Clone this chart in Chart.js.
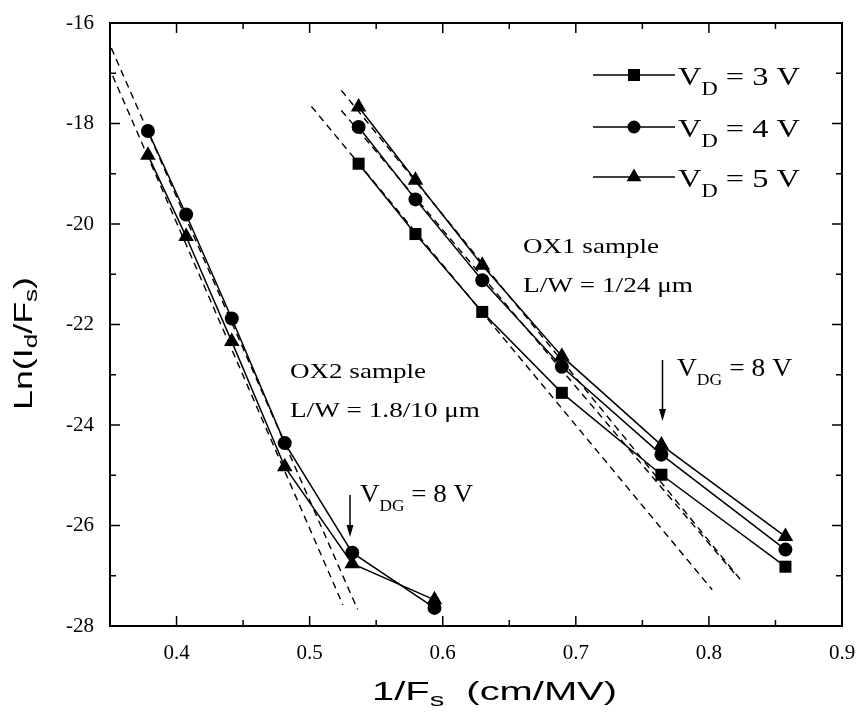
<!DOCTYPE html>
<html>
<head>
<meta charset="utf-8">
<script src="https://cdn.jsdelivr.net/npm/chart.js@4/dist/chart.umd.min.js"></script>
<style>
html,body{margin:0;padding:0;background:#fff;}
#wrap{width:857px;height:715px;position:relative;}
</style>
</head>
<body>
<div id="wrap"><canvas id="c" width="857" height="715"></canvas></div>
<script>
// ---- data ----
const xOX2 = [0.3785, 0.4072, 0.4415, 0.4813, 0.532, 0.5938];
const ox2_VD4 = [-18.15, -19.81, -21.88, -24.36, -26.54, -27.64];
const ox2_VD5 = [-18.63, -20.25, -22.34, -24.83, -26.76, -27.48];

const xOX1 = [0.5368, 0.5795, 0.6297, 0.6895, 0.7643, 0.8575];
const ox1_VD3 = [-18.80, -20.20, -21.75, -23.36, -24.99, -26.82];
const ox1_VD4 = [-18.07, -19.51, -21.12, -22.84, -24.59, -26.48];
const ox1_VD5 = [-17.67, -19.13, -20.82, -22.63, -24.40, -26.22];

// linear fits (dashed), end points
const fitOX2_VD4_x = [0.351, 0.536],  fitOX2_VD4_y = [-16.50, -27.67];
const fitOX2_VD5_x = [0.352, 0.525],  fitOX2_VD5_y = [-17.05, -27.58];
const fitOX1_VD3_x = [0.5013, 0.8025], fitOX1_VD3_y = [-17.66, -27.28];
const fitOX1_VD4_x = [0.5238, 0.8200], fitOX1_VD4_y = [-17.74, -26.98];
const fitOX1_VD5_x = [0.5238, 0.8238], fitOX1_VD5_y = [-17.34, -27.08];

const legendLabels = ['3 V', '4 V', '5 V'];
const legendStyles = ['rect', 'circle', 'triangle'];

const xTickMajor = [0.4, 0.5, 0.6, 0.7, 0.8, 0.9];
const yTickValues = [-28, -26, -24, -22, -20, -18, -16];

// ---- helpers ----
const pts = (xs, ys) => xs.map((x, i) => ({x: x, y: ys[i]}));
const R = {rect: 8.5, circle: 7, triangle: 9};

function solid(data, style) {
  return {data, showLine: true, borderColor: '#000', borderWidth: 1.5,
    pointStyle: style, pointRadius: R[style], pointBackgroundColor: '#000',
    pointBorderColor: '#000', pointBorderWidth: 0, order: 1};
}
function dashed(data) {
  return {data, showLine: true, borderColor: '#000', borderWidth: 1.4,
    borderDash: [7, 5], pointRadius: 0, order: 2};
}

function drawMarker(ctx, style, x, y, r) {
  ctx.beginPath();
  if (style === 'rect') {
    const s = r * Math.SQRT1_2;
    ctx.rect(x - s, y - s, 2 * s, 2 * s);
  } else if (style === 'circle') {
    ctx.arc(x, y, r, 0, Math.PI * 2);
  } else {
    ctx.moveTo(x, y - r);
    ctx.lineTo(x + r * Math.sin(2 * Math.PI / 3), y - r * Math.cos(2 * Math.PI / 3));
    ctx.lineTo(x + r * Math.sin(4 * Math.PI / 3), y - r * Math.cos(4 * Math.PI / 3));
    ctx.closePath();
  }
  ctx.fill();
}

function rich(ctx, parts, x, y, targetW, rotate) {
  ctx.save();
  ctx.translate(x, y);
  if (rotate) ctx.rotate(-Math.PI / 2);
  ctx.textAlign = 'left';
  ctx.textBaseline = 'alphabetic';
  ctx.fillStyle = '#000';
  let w = 0;
  parts.forEach(p => { ctx.font = p.f; p.w = ctx.measureText(p.t).width; w += p.w; });
  const s = targetW ? targetW / w : 1;
  ctx.scale(s, 1);
  let cx = 0;
  parts.forEach(p => { ctx.font = p.f; ctx.fillText(p.t, cx, p.dy || 0); cx += p.w; });
  ctx.restore();
}

function arrow(ctx, x, y0, y1) {
  ctx.save();
  ctx.strokeStyle = '#000'; ctx.fillStyle = '#000'; ctx.lineWidth = 1.5;
  ctx.beginPath(); ctx.moveTo(x, y0); ctx.lineTo(x, y1 - 8); ctx.stroke();
  ctx.beginPath(); ctx.moveTo(x, y1); ctx.lineTo(x - 3.5, y1 - 12); ctx.lineTo(x + 3.5, y1 - 12); ctx.closePath(); ctx.fill();
  ctx.restore();
}

const SERIF = '"Liberation Serif", "Times New Roman", serif';
const SANS = '"Liberation Sans", Arial, sans-serif';

const overlay = {
  id: 'overlay',
  afterDraw(chart) {
    const ctx = chart.ctx;
    const a = chart.chartArea;
    const xs = chart.scales.x, ys = chart.scales.y;
    ctx.save();
    // frame
    ctx.strokeStyle = '#000';
    ctx.lineWidth = 2;
    ctx.strokeRect(a.left, a.top, a.right - a.left, a.bottom - a.top);
    // ticks (inward, major + minor, all four sides)
    ctx.lineWidth = 1.5;
    ctx.beginPath();
    for (let k = 8; k < 18; k++) {
      const v = k * 0.05;
      const px = xs.getPixelForValue(v);
      const L = (k % 2 === 0) ? 10 : 6;
      ctx.moveTo(px, a.bottom); ctx.lineTo(px, a.bottom - L);
      ctx.moveTo(px, a.top); ctx.lineTo(px, a.top + L);
    }
    for (let v = -27; v <= -17; v += 1) {
      const py = ys.getPixelForValue(v);
      const L = (v % 2 === 0) ? 10 : 6;
      ctx.moveTo(a.left, py); ctx.lineTo(a.left + L, py);
      ctx.moveTo(a.right, py); ctx.lineTo(a.right - L, py);
    }
    ctx.stroke();

    // legend
    ctx.fillStyle = '#000';
    const rowsY = [75, 127, 177];
    legendStyles.forEach((st, i) => {
      const y = rowsY[i];
      ctx.lineWidth = 1.5;
      ctx.beginPath(); ctx.moveTo(593, y); ctx.lineTo(675, y); ctx.stroke();
      drawMarker(ctx, st, 634, y, st === 'rect' ? 8.5 : st === 'circle' ? 6.5 : 8.5);
      rich(ctx, [
        {t: 'V', f: '26px ' + SERIF},
        {t: 'D', f: '18px ' + SERIF, dy: 10},
        {t: ' = ' + legendLabels[i], f: '26px ' + SERIF}
      ], 678, y + 10, 122);
    });

    // annotations
    rich(ctx, [{t: 'OX1 sample', f: '22px ' + SERIF}], 523, 253, 136);
    rich(ctx, [{t: 'L/W = 1/24 \u03bcm', f: '22px ' + SERIF}], 523, 292, 170);
    rich(ctx, [{t: 'OX2 sample', f: '22px ' + SERIF}], 290, 378, 136);
    rich(ctx, [{t: 'L/W = 1.8/10 \u03bcm', f: '22px ' + SERIF}], 290, 417, 190);

    rich(ctx, [
      {t: 'V', f: '25px ' + SERIF},
      {t: 'DG', f: '16px ' + SERIF, dy: 9},
      {t: ' = 8 V', f: '25px ' + SERIF}
    ], 677, 376, 115);
    arrow(ctx, 662.5, 360, 421);

    rich(ctx, [
      {t: 'V', f: '25px ' + SERIF},
      {t: 'DG', f: '16px ' + SERIF, dy: 9},
      {t: ' = 8 V', f: '25px ' + SERIF}
    ], 360, 502, 113);
    arrow(ctx, 350, 495, 537);

    // axis titles
    rich(ctx, [
      {t: '1/F', f: '26px ' + SANS},
      {t: 's', f: '19px ' + SANS, dy: 6},
      {t: '  (cm/MV)', f: '26px ' + SANS}
    ], 372, 700, 245);
    rich(ctx, [
      {t: 'Ln(I', f: '26px ' + SANS},
      {t: 'd', f: '19px ' + SANS, dy: 5},
      {t: '/F', f: '26px ' + SANS},
      {t: 's', f: '19px ' + SANS, dy: 5},
      {t: ')', f: '26px ' + SANS}
    ], 32, 410, 133, true);
    ctx.restore();
  }
};

new Chart(document.getElementById('c'), {
  type: 'scatter',
  data: {
    datasets: [
      solid(pts(xOX1, ox1_VD3), 'rect'),
      solid(pts(xOX1, ox1_VD4), 'circle'),
      solid(pts(xOX1, ox1_VD5), 'triangle'),
      solid(pts(xOX2, ox2_VD4), 'circle'),
      solid(pts(xOX2, ox2_VD5), 'triangle'),
      dashed(pts(fitOX2_VD4_x, fitOX2_VD4_y)),
      dashed(pts(fitOX2_VD5_x, fitOX2_VD5_y)),
      dashed(pts(fitOX1_VD3_x, fitOX1_VD3_y)),
      dashed(pts(fitOX1_VD4_x, fitOX1_VD4_y)),
      dashed(pts(fitOX1_VD5_x, fitOX1_VD5_y))
    ]
  },
  options: {
    responsive: false,
    animation: false,
    devicePixelRatio: 1,
    layout: {padding: {top: 23, right: 15, left: 0, bottom: 0}},
    plugins: {legend: {display: false}, tooltip: {enabled: false}},
    scales: {
      x: {
        type: 'linear', min: 0.35, max: 0.9,
        grid: {display: false}, border: {display: false},
        afterFit: s => { s.height = 89; s.paddingLeft = 0; s.paddingRight = 0; },
        afterBuildTicks: s => { s.ticks = xTickMajor.map(v => ({value: v})); },
        ticks: {
          padding: 7, color: '#000', font: {family: SERIF, size: 21},
          callback: v => v.toFixed(1), maxRotation: 0, autoSkip: false
        }
      },
      y: {
        type: 'linear', min: -28, max: -16,
        grid: {display: false}, border: {display: false},
        afterFit: s => { s.width = 110; s.paddingTop = 0; s.paddingBottom = 0; },
        afterBuildTicks: s => { s.ticks = yTickValues.map(v => ({value: v})); },
        ticks: {
          padding: 8, color: '#000', font: {family: SERIF, size: 21},
          callback: v => String(v), autoSkip: false
        }
      }
    }
  },
  plugins: [overlay]
});
</script>
</body>
</html>
